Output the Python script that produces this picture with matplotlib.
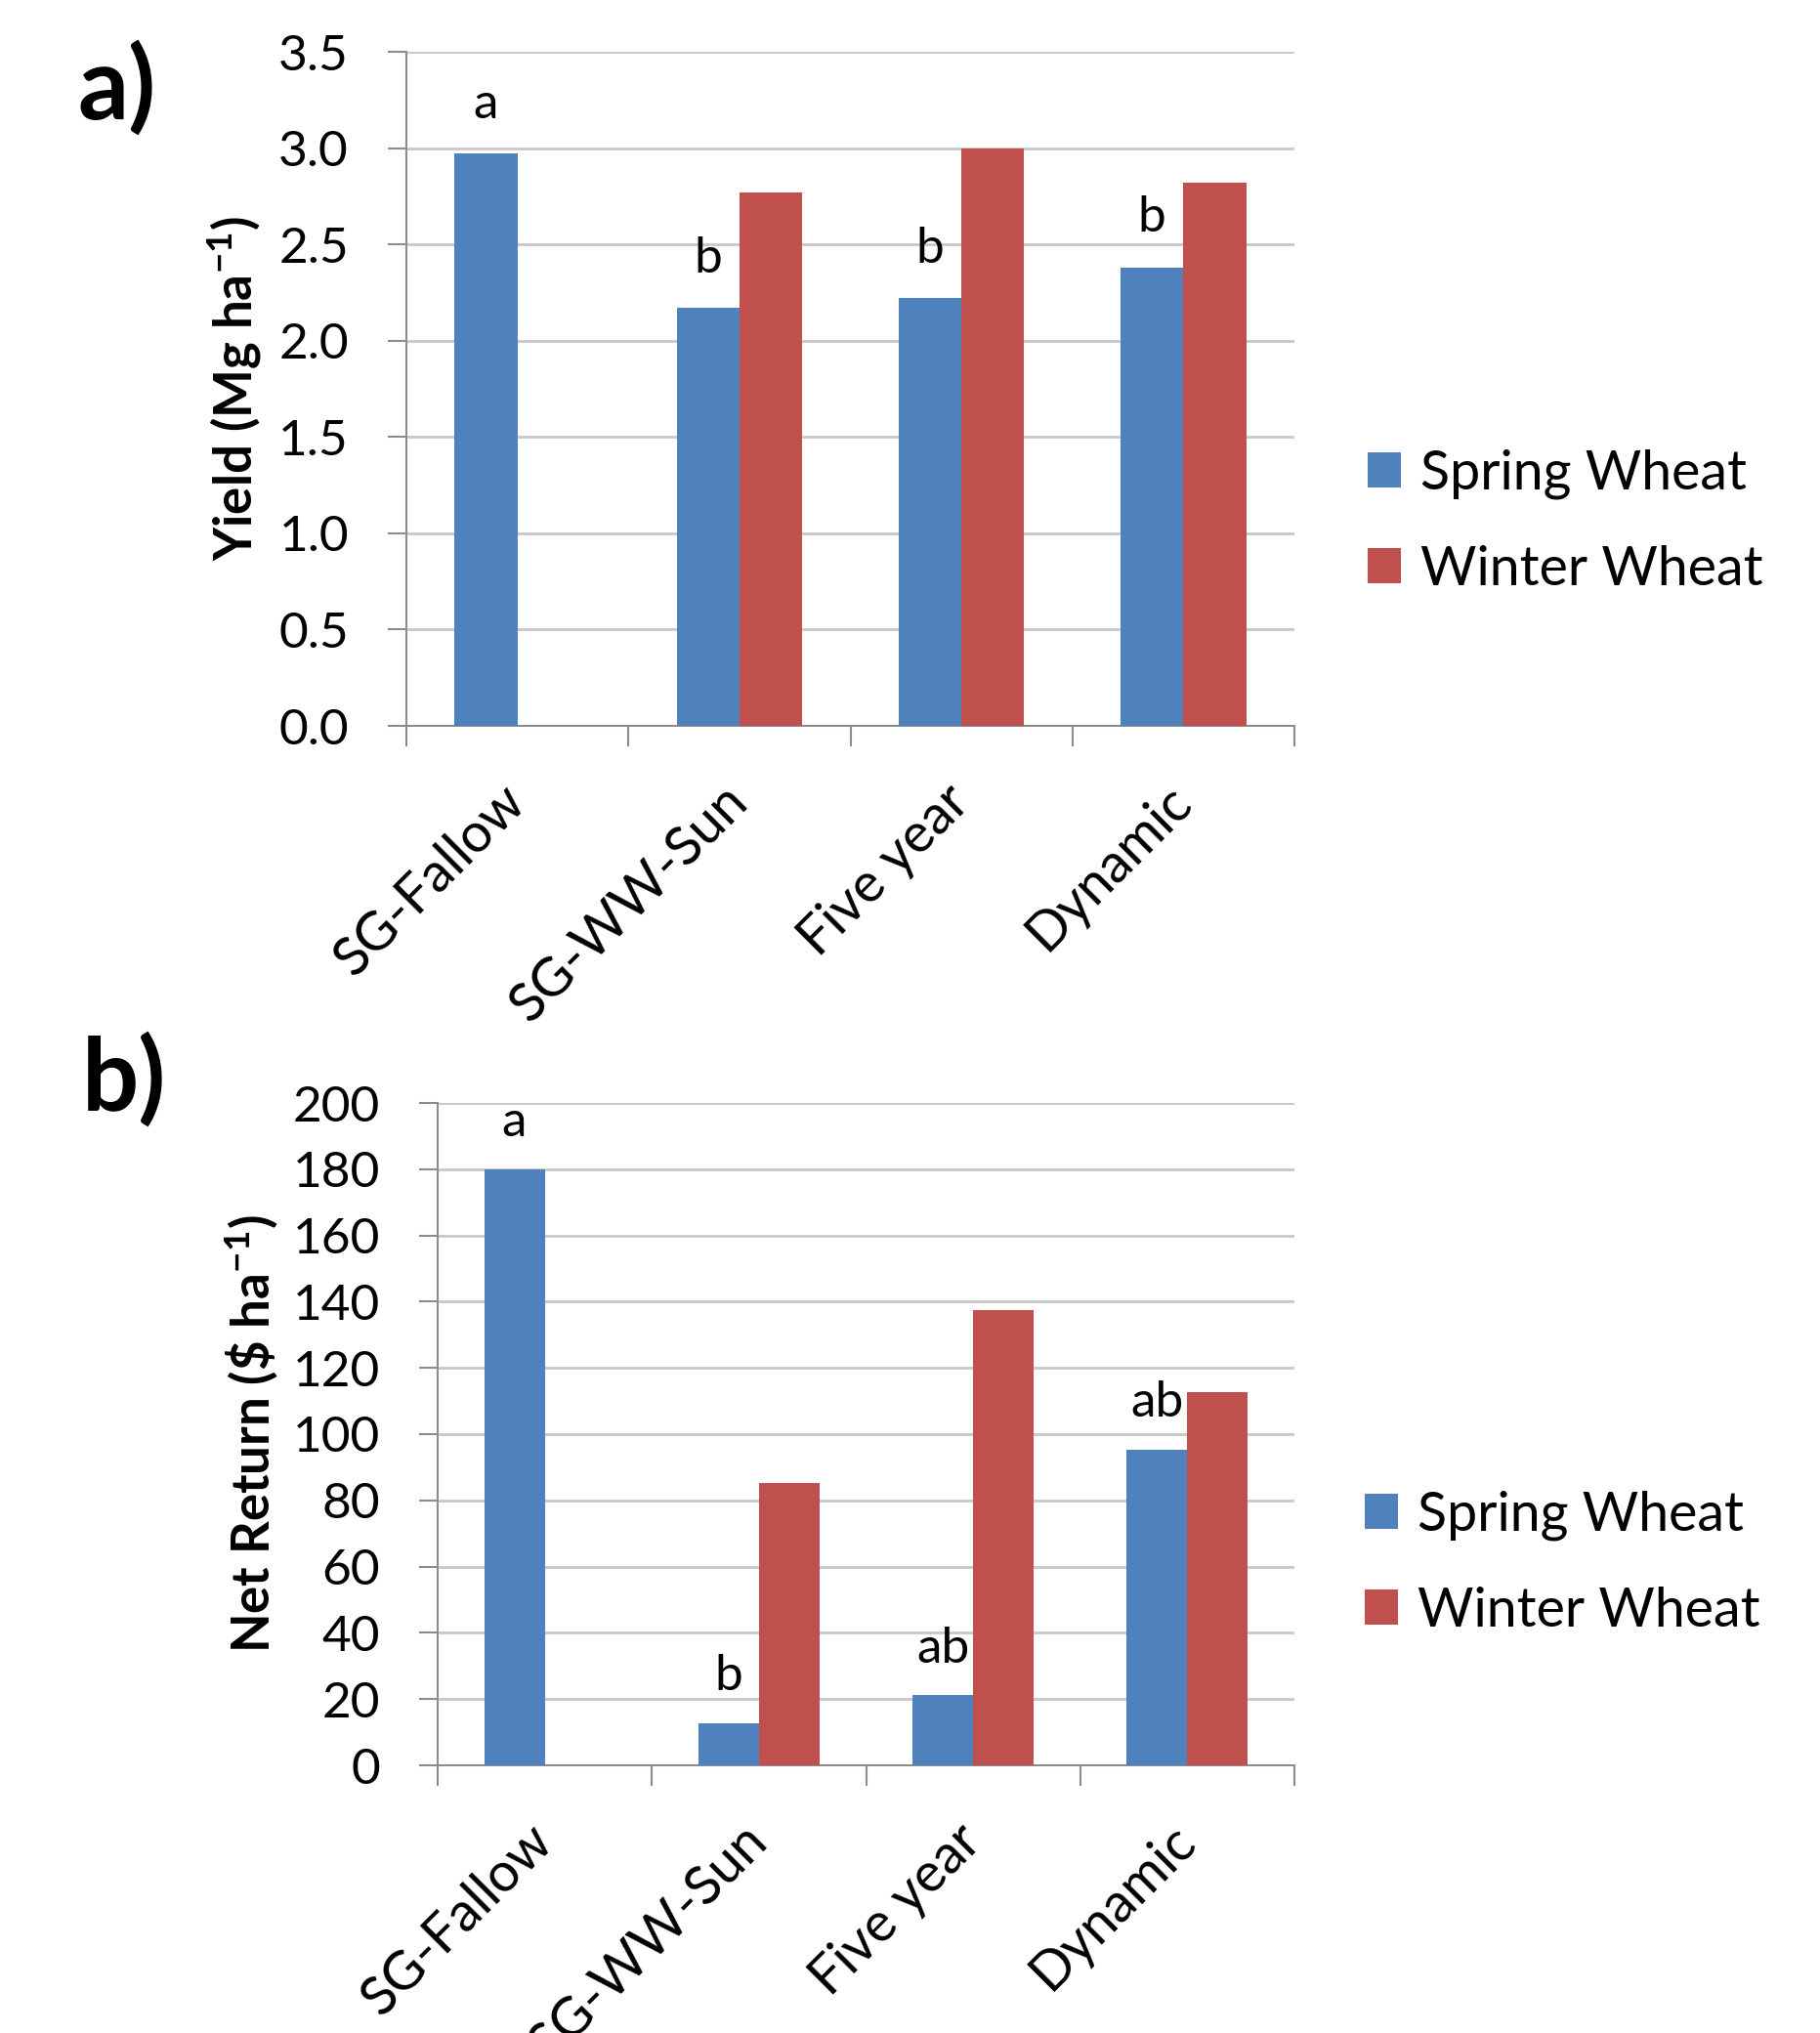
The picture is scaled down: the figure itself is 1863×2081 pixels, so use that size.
import numpy as np
import matplotlib
matplotlib.use("Agg")
import matplotlib.pyplot as plt
import matplotlib.transforms as mtransforms

plt.rcParams['font.family'] = ['Lato', 'DejaVu Sans']
plt.rcParams['mathtext.fontset'] = 'custom'
plt.rcParams['mathtext.rm'] = 'Lato'
plt.rcParams['mathtext.bf'] = 'Lato:bold'

# data
rotations = ['SG-Fallow', 'SG-WW-Sun', 'Five year', 'Dynamic']
yield_spring = [2.97, 2.17, 2.22, 2.38]
yield_winter = [np.nan, 2.77, 3.00, 2.82]
yield_letters = ['a', 'b', 'b', 'b']
return_spring = [180.0, 12.6, 21.1, 95.3]
return_winter = [np.nan, 85.2, 137.4, 112.6]
return_letters = ['a', 'b', 'ab', 'ab']

blue = '#4F81BD'
red = '#C0504D'
axis_grey = '#8C8C8C'
grid_grey = '#C8C8C8'

W, H = 1863, 2081
fig = plt.figure(figsize=(W / 100, H / 100), dpi=100)


def draw_panel(ax, spring, winter, letters, ymax, ystep, fmt, offset, xshift):
    x = np.arange(len(rotations)) + 0.5
    bw = 0.283
    ax.bar(x - bw / 2, spring, bw, color=blue, label='Spring Wheat', zorder=3)
    ax.bar(x + bw / 2, winter, bw, color=red, label='Winter Wheat', zorder=3)
    for xi, v, t in zip(x, spring, letters):
        ax.text(xi - bw / 2, v + offset, t, ha='center', va='baseline', fontsize=37)

    ax.set_xlim(0, len(rotations))
    ax.set_ylim(0, ymax)
    ticks = np.arange(0, ymax + ystep / 2, ystep)
    ax.set_yticks(ticks)
    ax.set_yticklabels([fmt.format(t) for t in ticks])
    ax.yaxis.grid(True, color=grid_grey, linewidth=2, zorder=0)
    ax.set_axisbelow(True)

    ax.set_xticks(x)
    ax.set_xticklabels(rotations, rotation=45, ha='right', va='center',
                       rotation_mode='anchor', fontsize=40)
    shift = mtransforms.ScaledTranslation(xshift / 100, 0, fig.dpi_scale_trans)
    for lab in ax.get_xticklabels():
        lab.set_transform(lab.get_transform() + shift)
    ax.set_xticks(np.arange(len(rotations) + 1), minor=True)
    ax.tick_params(axis='x', which='major', length=0, pad=50)
    ax.tick_params(axis='x', which='minor', length=15, width=1.5, color=axis_grey, direction='out')
    ax.tick_params(axis='y', length=13.5, width=1.5, color=axis_grey, direction='out',
                   labelsize=37, pad=29)

    for s in ['top', 'right']:
        ax.spines[s].set_visible(False)
    for s in ['left', 'bottom']:
        ax.spines[s].set_color(axis_grey)
        ax.spines[s].set_linewidth(1.5)


legend_kw = dict(frameon=False, fontsize=40, handlelength=0.62, handleheight=0.62,
                 handletextpad=0.35, labelspacing=0.85, borderpad=0, borderaxespad=0,
                 bbox_transform=fig.transFigure, loc='center left')

ax_a = fig.add_axes([416 / W, 1 - 743 / H, 909 / W, 690 / H])
draw_panel(ax_a, yield_spring, yield_winter, yield_letters, 3.5, 0.5, '{:.1f}', 0.185, 8)
fig.text(240 / W, 1 - 398 / H, r'Yield (Mg ha$^{\mathbf{-1}}$)', rotation=90,
         ha='center', va='center', fontsize=38, fontweight='bold')
ax_a.legend(bbox_to_anchor=(1400 / W, 1 - 534 / H), **legend_kw)
fig.text(80 / W, 1 - 122 / H, 'a)', ha='left', va='baseline', fontsize=74, fontweight='bold')

ax_b = fig.add_axes([448 / W, 1 - 1807 / H, 877 / W, 678 / H])
draw_panel(ax_b, return_spring, return_winter, return_letters, 200, 20, '{:.0f}', 10, 4)
fig.text(257 / W, 1 - 1468 / H, r'Net Return (\$ ha$^{\mathbf{-1}}$)', rotation=90,
         ha='center', va='center', fontsize=38, fontweight='bold')
ax_b.legend(bbox_to_anchor=(1397 / W, 1 - 1600 / H), **legend_kw)
fig.text(84 / W, 1 - 1137 / H, 'b)', ha='left', va='baseline', fontsize=74, fontweight='bold')

fig.savefig('out.png', dpi=100)
